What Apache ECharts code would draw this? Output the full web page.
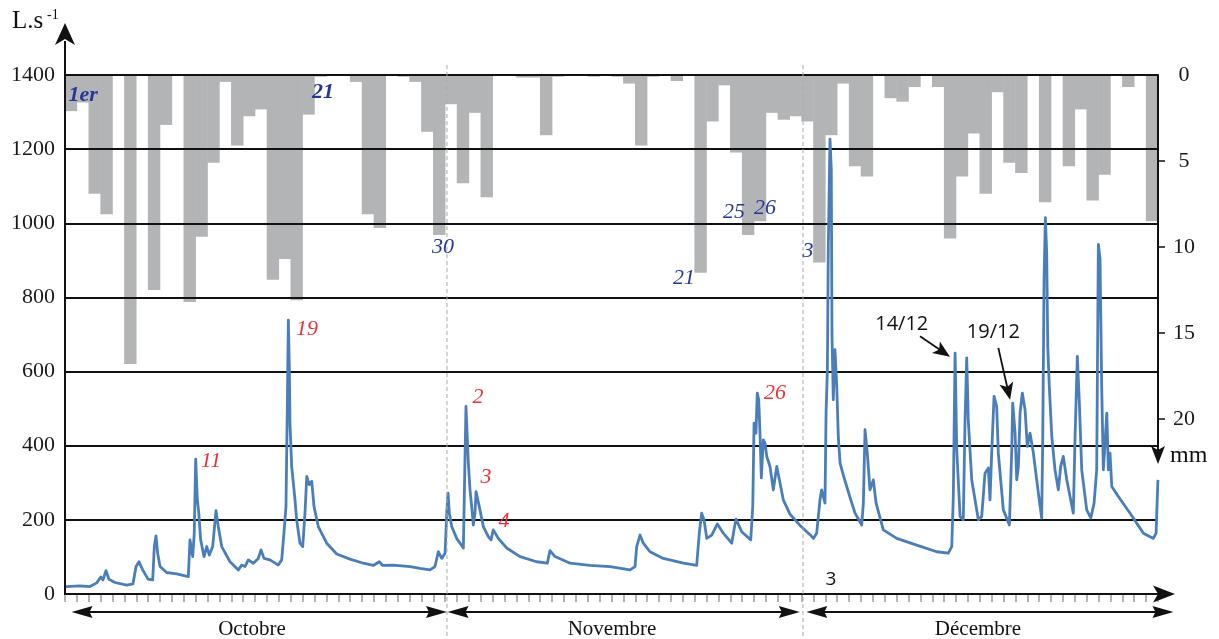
<!DOCTYPE html>
<html><head><meta charset="utf-8">
<script src="https://cdn.jsdelivr.net/npm/echarts@6/dist/echarts.min.js"></script>
<style>html,body{margin:0;padding:0;background:#fff}#c{width:1219px;height:639px}</style>
</head><body><div id="c"></div>
<script>
// ---- DATA ----
// Daily rainfall (mm), one value per day slot starting 1 October (92 slots)
const rainfallMm = [
  2.1,1.6,6.9,8.1,0,16.8,0,12.5,2.9,0,13.2,9.4,5.1,0.4,4.1,2.4,2.0,11.9,10.7,13.1,2.3,0.1,0,0,0.4,8.1,8.9,0,0.1,0.4,3.3,9.3,
  1.7,6.3,2.2,7.1,0,0,0.15,0.15,3.5,0.1,0,0,0.1,0,0.1,0.5,4.1,0.1,0,0.35,0,11.5,2.7,0.6,4.5,9.3,8.5,2.2,2.6,2.4,2.7,
  10.9,3.5,0.5,5.3,5.9,0,1.35,1.55,0.7,0,0.7,9.5,5.9,3.4,6.9,1.0,5.1,5.7,0,7.4,0,5.3,2.0,7.3,5.8,0,0.7,0,8.5
];
// Discharge hydrograph: time (days since 1 October) and flow (L/s)
const flowDay = [
  0.08,1.26,2.10,2.67,3.01,3.20,3.45,3.70,4.21,5.19,5.72,5.98,6.23,6.54,6.99,7.38,7.52,7.66,7.80,8.00,8.56,9.40,10.38,10.52,10.75,10.88,11.00,11.14,11.25,11.42,11.70,11.93,12.15,12.43,12.71,12.90,13.19,13.89,14.59,14.87,15.15,15.43,15.85,16.27,16.50,16.75,17.26,17.95,18.24,18.43,18.60,18.71,18.80,18.88,18.94,19.08,19.36,19.50,19.78,20.01,20.20,20.35,20.56,20.77,20.96,21.32,22.03,22.87,23.99,25.11,25.95,26.46,26.74,27.63,29.04,29.88,30.72,31.14,31.42,31.71,31.99,
  32.13,32.24,32.35,32.55,32.97,33.53,33.67,33.75,33.86,33.95,34.09,34.23,34.37,34.51,34.60,34.74,34.93,35.21,35.63,35.86,36.05,36.47,37.18,38.30,39.70,40.60,40.82,41.25,42.51,44.19,45.88,47.56,47.98,48.12,48.40,48.68,49.24,50.36,52.05,53.17,53.39,53.59,53.79,54.02,54.44,54.91,55.41,56.12,56.31,56.48,56.96,57.72,57.89,58.00,58.16,58.27,58.39,58.50,58.61,58.78,58.92,59.07,59.34,59.62,59.91,60.13,60.46,61.03,61.87,62.71,
  62.99,63.27,63.55,63.69,63.97,64.06,64.17,64.25,64.39,64.50,64.56,64.67,64.81,64.96,65.09,65.24,65.52,65.80,66.18,66.50,67.06,67.20,67.34,67.53,67.76,68.04,68.27,68.88,70.01,71.69,73.37,74.35,74.64,74.77,74.92,75.06,75.34,75.61,75.76,75.90,76.03,76.32,76.88,77.16,77.44,77.72,77.86,78.00,78.20,78.42,78.56,78.98,79.49,79.69,79.77,79.97,80.11,80.25,80.39,80.58,80.81,81.00,81.23,81.51,81.93,82.21,82.30,82.41,82.52,82.63,82.72,82.85,83.06,83.33,83.61,83.81,84.03,84.32,84.87,85.02,85.21,85.38,85.58,86.00,86.34,86.62,86.84,86.98,87.12,87.26,87.40,87.54,87.69,87.82,87.96,88.11,88.66,89.65,90.77,91.61,91.84,91.98,92.00
];
const flowQ = [
  20,22,20,30,46,38,63,40,31,24,27,74,87,65,40,38,128,157,110,74,58,54,47,146,101,164,364,254,222,146,101,128,105,128,225,182,128,87,65,78,74,92,83,96,119,96,92,78,92,164,236,497,739,614,457,344,254,200,137,128,218,317,295,304,236,182,137,108,94,83,77,87,77,78,74,69,65,74,114,96,110,
  218,272,218,182,150,124,124,506,506,353,281,236,186,218,276,276,227,182,155,146,173,150,124,101,87,83,117,101,83,77,74,65,74,128,159,137,114,96,83,77,164,218,200,150,159,189,164,137,173,202,168,146,236,461,434,542,524,434,313,416,407,371,344,281,344,308,254,215,185,160,
  150,164,254,281,245,488,605,939,1227,1146,695,524,659,560,425,353,320,290,250,218,186,245,443,380,281,308,245,173,150,132,114,110,128,263,650,389,209,200,470,637,470,308,200,209,326,340,254,380,533,506,380,227,186,389,515,434,308,344,488,542,497,398,434,380,272,205,425,849,1015,921,668,560,425,335,281,344,371,308,218,425,641,515,335,227,205,245,335,943,905,560,335,407,488,335,380,290,263,218,164,150,164,299,308
];
const flowTicks = [0,200,400,600,800,1000,1200,1400];
const rainTicks = [0,5,10,15,20];
const monthNames = ['Octobre','Novembre','Décembre'];
// annotations: text, day, flow-axis value
const rainDayLabels = [['1er',1.52,1346,true],['21',21.72,1354,true],['30',31.82,935],['21',52.10,851],['25',56.31,1030],['26',58.92,1041],['3',62.54,924]];
const peakLabels = [['11',12.29,357],['19',20.37,714],['2',34.76,532],['3',35.44,314],['4',36.95,197],['26',59.76,541]];

(function () {
const SERIF = '"Liberation Serif", "DejaVu Serif", serif';
const SANS = '"Open Sans", "Noto Sans", sans-serif';
const INK = '#111';
const RAIN_MAX = 22.09;
const chart = echarts.init(document.getElementById('c'));
chart.setOption({
  animation: false,
  backgroundColor: '#fff',
  grid: [
    {left: 65, right: 61, top: 75, bottom: 45},
    {left: 65, right: 61, top: 75, height: 380}
  ],
  xAxis: [
    {type: 'value', gridIndex: 0, min: 0, max: 92, interval: 1,
     axisLine: {show: true, onZero: false, lineStyle: {color: INK, width: 2}},
     axisTick: {show: true, length: 8, lineStyle: {color: '#9a9a9a', width: 1.5}},
     axisLabel: {show: false}, splitLine: {show: false}},
    {type: 'value', gridIndex: 1, min: 0, max: 92, show: false}
  ],
  yAxis: [
    {type: 'value', gridIndex: 0, min: 0, max: 1400, interval: 200, z: 3,
     axisLine: {show: false, onZero: false}, axisTick: {show: false},
     axisLabel: {margin: 10, color: '#1a1a1a', fontSize: 22, fontFamily: SERIF, customValues: flowTicks,
                 formatter: v => String(v)},
     splitLine: {lineStyle: {color: INK, width: 2}}},
    {type: 'value', gridIndex: 1, position: 'right', inverse: true, min: 0, max: RAIN_MAX, z: 3,
     axisLine: {show: true, onZero: false, lineStyle: {color: INK, width: 2}},
     axisTick: {show: true, length: 7, customValues: rainTicks.slice(1), lineStyle: {color: INK, width: 1.5}},
     axisLabel: {customValues: rainTicks, margin: 26, align: 'center', color: '#1a1a1a', fontSize: 22, fontFamily: SERIF,
                 formatter: v => String(v)},
     splitLine: {show: false}}
  ],
  series: [
    {type: 'bar', xAxisIndex: 1, yAxisIndex: 1, silent: true, z: 1,
     data: rainfallMm.map((v, i) => [i + 0.5, v]),
     barWidth: 12.4, itemStyle: {color: '#b3b4b6'}},
    {type: 'line', xAxisIndex: 0, yAxisIndex: 0, silent: true, z: 4,
     data: flowDay.map((d, i) => [d, flowQ[i]]),
     showSymbol: false, symbol: 'none',
     lineStyle: {color: '#4a7ebb', width: 2.8, join: 'round'}}
  ]
});

// ---- decorations computed through the axes ----
const P0 = (d, q) => chart.convertToPixel({gridIndex: 0}, [d, q]);
const P1 = (d, mm) => chart.convertToPixel({gridIndex: 1}, [d, mm]);
const G = [];
function seg(a, b, w, color, dash) {
  G.push({type: 'line', z: 20, silent: true, shape: {x1: a[0], y1: a[1], x2: b[0], y2: b[1]},
    style: {stroke: color || INK, lineWidth: w, lineDash: dash || null}});
}
function head(tip, dir, len, half, notch) {
  const tx = tip[0], ty = tip[1], dx = dir[0], dy = dir[1], px = -dy, py = dx;
  const bx = tx - dx * len, by = ty - dy * len;
  const nx = tx - dx * (len - notch), ny = ty - dy * (len - notch);
  G.push({type: 'polygon', z: 21, silent: true,
    shape: {points: [[tx, ty], [bx + px * half, by + py * half], [nx, ny], [bx - px * half, by - py * half]]},
    style: {fill: INK}});
}
function txt(x, y, t, font, fill, align) {
  G.push({type: 'text', z: 22, silent: true, x: x, y: y,
    style: {text: t, font: font, fill: fill, align: align || 'center', verticalAlign: 'middle'}});
}
const o = P0(0, 0), tp = P0(0, 1400), e = P0(92, 0), r = P1(92, RAIN_MAX);
// top frame line above the rain bars
seg([o[0], tp[1]], [e[0], tp[1]], 2);
// left axis with arrow
seg([o[0], o[1] + 1], [o[0], tp[1] - 34], 2);
head([o[0], tp[1] - 52], [0, -1], 22, 10, 6);
// x axis arrow
seg(e, [e[0] + 8, e[1]], 2);
head([e[0] + 17, e[1]], [1, 0], 22, 8.5, 5);
// right axis arrow + unit
head([r[0], r[1] + 9], [0, 1], 18, 7, 4);
txt(r[0] + 12, r[1] + 1, 'mm', '24px ' + SERIF, INK, 'left');
txt(12, 21, 'L.s', '25px ' + SERIF, INK, 'left');
txt(47, 15, '-1', '14px ' + SERIF, INK, 'left');
// month separators (dashed)
[32.15, 62.12].forEach(d => { const x = P0(d, 0)[0]; seg([x, tp[1] - 10], [x, 639], 1, '#aaaaaa', [4, 3]); });
// month brackets
const bky = o[1] + 18;
[[0.55, 32.15, 15.74], [32.2, 61.85, 46.04], [62.4, 93.3, 76.85]].forEach((m, i) => {
  const a = P0(m[0], 0)[0], b = P0(m[1], 0)[0];
  seg([a + 10, bky], [b - 10, bky], 2);
  head([a, bky], [-1, 0], 21, 6, 3);
  head([b, bky], [1, 0], 21, 6, 3);
  txt(P0(m[2], 0)[0], o[1] + 35, monthNames[i], '21px ' + SERIF, INK);
});
// annotations
rainDayLabels.forEach(l => { const p = P0(l[1], l[2]); txt(p[0], p[1], l[0], 'italic ' + (l[3] ? 'bold ' : '') + '22px ' + SERIF, '#25389a'); });
peakLabels.forEach(l => { const p = P0(l[1], l[2]); txt(p[0], p[1], l[0], 'italic 22px ' + SERIF, '#e8333a'); });
[['14/12', 70.43, 727, 71.97, 695, 74.49, 640], ['19/12', 78.14, 705, 78.56, 664, 79.55, 524]].forEach(a => {
  const p = P0(a[1], a[2]), s = P0(a[3], a[4]), t = P0(a[5], a[6]);
  txt(p[0], p[1], a[0], '20px ' + SANS, INK);
  const L = Math.hypot(t[0] - s[0], t[1] - s[1]), ux = (t[0] - s[0]) / L, uy = (t[1] - s[1]) / L;
  seg(s, [t[0] - ux * 10, t[1] - uy * 10], 1.8);
  head(t, [ux, uy], 17, 7, 4);
});
const p3 = P0(64.48, 38); txt(p3[0], p3[1], '3', '19px ' + SANS, INK);
chart.setOption({graphic: {elements: G}});
})();
</script>
</body></html>
